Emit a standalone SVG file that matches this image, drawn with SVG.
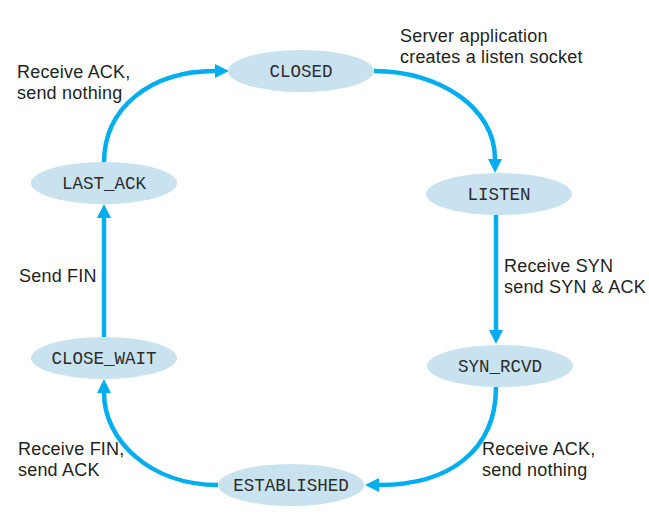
<svg xmlns="http://www.w3.org/2000/svg" width="649" height="526" viewBox="0 0 649 526">
<style>
.node ellipse{fill:#C9E2EF;}
.node text{font-family:"Liberation Mono",monospace;font-size:17.5px;fill:#2b2b2b;text-anchor:middle;}
.lbl{font-family:"Liberation Sans",Arial,sans-serif;font-size:18px;letter-spacing:0.2px;fill:#231F20;}
.edge{fill:none;stroke:#00AEEF;stroke-width:4.5;marker-end:url(#ah);}
</style>
<defs>
<marker id="ah" markerUnits="userSpaceOnUse" markerWidth="14" markerHeight="14" refX="0" refY="6.5" orient="auto" viewBox="0 0 13 13">
<path d="M0,0 L13,6.5 L0,13 z" fill="#00AEEF"/>
</marker>
</defs>
<rect width="649" height="526" fill="#ffffff"/>
<g id="connectors">
<path class="edge" d="M104,163 C104,108 150,71 215,71"/>
<path class="edge" d="M374,71 C440,71 495,108 495,159"/>
<path class="edge" d="M496,215 L496,330"/>
<path class="edge" d="M496,387 C496,450 450,485 379,485"/>
<path class="edge" d="M218,485 C150,485 104,440 104,393"/>
<path class="edge" d="M104,337 L104,218"/>
</g>
<g id="closed" class="node"><ellipse cx="301" cy="71" rx="73" ry="21"/><text x="301" y="77">CLOSED</text></g>
<g id="listen" class="node"><ellipse cx="499" cy="194" rx="73" ry="21"/><text x="499" y="200">LISTEN</text></g>
<g id="syn_rcvd" class="node"><ellipse cx="500" cy="366" rx="73" ry="21"/><text x="500" y="372">SYN_RCVD</text></g>
<g id="established" class="node"><ellipse cx="291" cy="485" rx="73" ry="21"/><text x="291" y="491">ESTABLISHED</text></g>
<g id="close_wait" class="node"><ellipse cx="104" cy="358" rx="73" ry="21"/><text x="104" y="364">CLOSE_WAIT</text></g>
<g id="last_ack" class="node"><ellipse cx="104" cy="183" rx="73" ry="21"/><text x="104" y="189">LAST_ACK</text></g>
<g id="labels">
<text class="lbl" x="17" y="78">Receive ACK,</text>
<text class="lbl" x="17" y="99">send nothing</text>
<text class="lbl" x="400" y="42">Server application</text>
<text class="lbl" x="400" y="63">creates a listen socket</text>
<text class="lbl" x="504" y="272">Receive SYN</text>
<text class="lbl" x="504" y="293">send SYN &amp; ACK</text>
<text class="lbl" x="482" y="455">Receive ACK,</text>
<text class="lbl" x="482" y="476">send nothing</text>
<text class="lbl" x="18" y="455">Receive FIN,</text>
<text class="lbl" x="18" y="476">send ACK</text>
<text class="lbl" x="19" y="282">Send FIN</text>
</g>
</svg>
